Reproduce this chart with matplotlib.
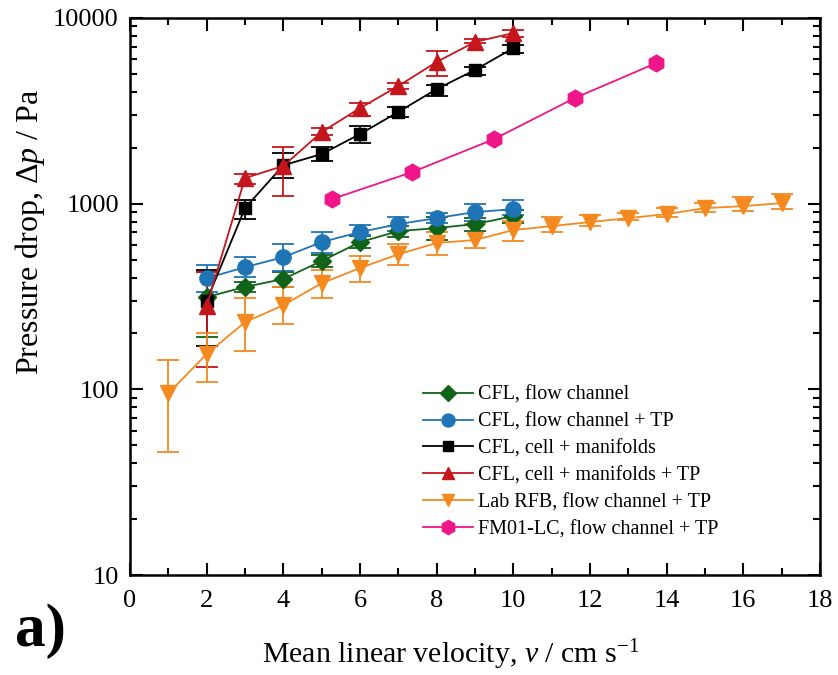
import numpy as np
import matplotlib
matplotlib.use('Agg')
import matplotlib.pyplot as plt
from matplotlib.lines import Line2D
from matplotlib.ticker import FixedLocator, FixedFormatter, LogLocator, NullFormatter

plt.rcParams['font.family'] = 'Liberation Serif'
plt.rcParams['mathtext.fontset'] = 'custom'
plt.rcParams['mathtext.rm'] = 'Liberation Serif'
plt.rcParams['mathtext.it'] = 'Liberation Serif:italic'

# CFL, flow channel
green_x = [2, 3, 4, 5, 6, 7, 8, 9, 10]
green_y = [314, 356, 393, 491, 621, 711, 739, 776, 857]
green_lo = [191, 335, 355, 455, 575, 665, 640, 715, 790]
green_hi = [428, 380, 430, 530, 670, 760, 850, 840, 925]

# CFL, flow channel + TP
blue_x = [2, 3, 4, 5, 6, 7, 8, 9, 10]
blue_y = [397, 455, 515, 621, 703, 776, 836, 901, 934]
blue_lo = [335, 402, 433, 542, 677, 715, 785, 805, 870]
blue_hi = [470, 515, 605, 703, 767, 847, 890, 995, 1045]

# CFL, cell + manifolds
black_x = [2, 3, 4, 5, 6, 7, 8, 9, 10]
black_y = [300, 946, 1610, 1850, 2370, 3120, 4140, 5250, 6890]
black_lo = [171, 826, 1374, 1700, 2120, 2930, 3800, 4930, 6470]
black_hi = [440, 1045, 1875, 2016, 2620, 3310, 4350, 5450, 7150]

# CFL, cell + manifolds + TP
red_x = [2, 3, 4, 5, 6, 7, 8, 9, 10]
red_y = [281, 1374, 1596, 2430, 3270, 4300, 5800, 7430, 8300]
red_lo = [132, 1277, 1099, 2330, 2960, 4150, 4870, 7330, 7900]
red_hi = [428, 1442, 2018, 2550, 3480, 4450, 6670, 7700, 8620]

# Lab RFB, flow channel + TP
orange_x = [1, 2, 3, 4, 5, 6, 7, 8, 9, 10, 11, 12, 13, 14, 15, 16, 17]
orange_y = [95, 155, 230, 284, 373, 450, 534, 614, 637, 721, 757, 796, 836, 879, 946, 970, 1007]
orange_lo = [46, 109, 161, 226, 310, 380, 470, 530, 580, 630, 700, 760, 820, 850, 900, 910, 940]
orange_hi = [144, 201, 310, 356, 440, 520, 610, 700, 780, 810, 850, 870, 890, 950, 1010, 1080, 1130]

# FM01-LC, flow channel + TP
pink_x = [5.27, 7.36, 9.5, 11.6, 13.73]
pink_y = [1059, 1479, 2228, 3705, 5720]

series = [
    ('CFL, flow channel', green_x, green_y, green_lo, green_hi, '#11631a', 'D', 9),
    ('CFL, flow channel + TP', blue_x, blue_y, blue_lo, blue_hi, '#1f74b5', 'o', 11),
    ('CFL, cell + manifolds', black_x, black_y, black_lo, black_hi, '#000000', 's', 9),
    ('CFL, cell + manifolds + TP', red_x, red_y, red_lo, red_hi, '#c4161c', '^', 11),
    ('Lab RFB, flow channel + TP', orange_x, orange_y, orange_lo, orange_hi, '#f4891f', 'v', 11),
]
pink_style = ('FM01-LC, flow channel + TP', '#ee1689', 'h', 12)

fig = plt.figure(figsize=(8.38, 6.75), dpi=100)
ax = fig.add_axes([130 / 838, 1 - 575 / 675, 690 / 838, 557 / 675])

handles = []
for label, x, y, lo, hi, col, mk, ms in series:
    y = np.array(y, dtype=float)
    yerr = [y - np.array(lo), np.array(hi) - y]
    ax.errorbar(x, y, yerr=yerr, color=col, marker=mk, markersize=ms, lw=1.3,
                elinewidth=1.3, capsize=8, capthick=1.3)
    handles.append(Line2D([], [], color=col, marker=mk, markersize=ms * 0.85, lw=1.3, label=label))

label, col, mk, ms = pink_style
ax.plot(pink_x, pink_y, color=col, marker=mk, markersize=ms, lw=1.3)
handles.append(Line2D([], [], color=col, marker=mk, markersize=ms * 0.85, lw=1.3, label=label))

ax.set_yscale('log')
ax.set_xlim(0, 18)
ax.set_ylim(10, 10000)
ax.set_xticks(np.arange(0, 19, 2))
ax.set_xticks(np.arange(1, 18, 2), minor=True)
ax.yaxis.set_major_locator(FixedLocator([10, 100, 1000, 10000]))
ax.yaxis.set_major_formatter(FixedFormatter(['10', '100', '1000', '10000']))
ax.yaxis.set_minor_locator(LogLocator(base=10, subs=np.arange(2, 10)))
ax.yaxis.set_minor_formatter(NullFormatter())

ax.tick_params(which='both', direction='in', top=True, right=True, width=1.5, labelsize=19)
ax.tick_params(axis='x', pad=11)
ax.tick_params(axis='y', pad=8)
ax.tick_params(which='major', length=9)
ax.tick_params(which='minor', length=5)
for s in ax.spines.values():
    s.set_linewidth(1.8)

ax.set_xlabel('Mean linear velocity, $\\mathit{v}$ / cm s$^{\\mathrm{-1}}$', fontsize=21.5)
ax.xaxis.set_label_coords((451 - 130) / 690, (575 - 663) / 557)
ax.xaxis.label.set_va('baseline')
ax.set_ylabel('Pressure drop, $\\mathit{\\Delta p}$ / Pa', fontsize=23)
ax.yaxis.set_label_coords((30 - 130) / 690, (575 - 232) / 557)
ax.yaxis.label.set_va('center')

ax.legend(handles=handles, loc='upper left',
          bbox_to_anchor=((423 - 130) / 690, 1 - (385.5 - 18) / 557),
          frameon=False, fontsize=14.5, handlelength=2.5, handletextpad=0.25,
          labelspacing=0.39, borderpad=0, borderaxespad=0)

fig.text(15 / 838, 1 - 646 / 675, 'a)', fontsize=44, fontweight='bold')

fig.savefig('out.png', dpi=100)
